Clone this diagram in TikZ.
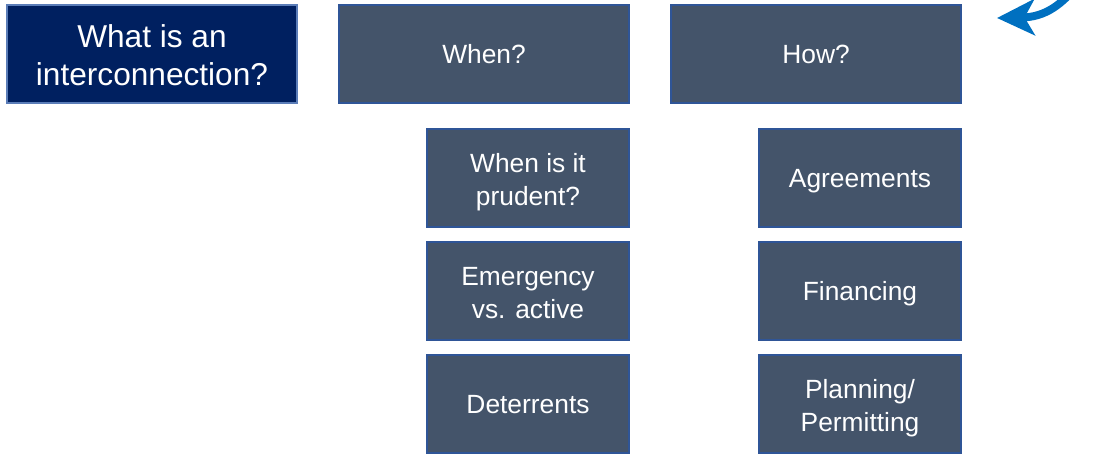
\documentclass[tikz,border=0pt]{standalone}
\usepackage{fontspec}
\setmainfont{Liberation Sans}
\usepackage{xcolor}
\usetikzlibrary{arrows.meta}
\definecolor{navyfill}{HTML}{002060}
\definecolor{navyedge}{HTML}{5B7DB8}
\definecolor{slatefill}{HTML}{44546A}
\definecolor{slateedge}{HTML}{2F5597}
\definecolor{arrowblue}{HTML}{0070C0}
\tikzset{
  topicbox/.style={draw=navyedge, fill=navyfill, line width=1.1pt, text=white,
    minimum width=5.8cm, minimum height=1.96cm, align=center,
    font=\fontsize{18}{21.5}\selectfont, text height=35.5pt, text depth=0pt},
  headbox/.style={draw=slateedge, fill=slatefill, line width=1pt, text=white,
    minimum width=5.8cm, minimum height=1.96cm, align=center,
    font=\fontsize{15}{19}\selectfont, text height=10.8pt, text depth=0pt},
  subbox/.style={headbox, minimum width=4.04cm},
  twoline/.style={text height=31.5pt, text depth=0pt}
}
\begin{document}
\begin{tikzpicture}[x=0.02cm,y=-0.02cm]
\useasboundingbox (0,0) rectangle (1099,455);
\clip (0,0) rectangle (1099,455);
% top row
\node[topicbox] (what) at (152,54) {What is an\\interconnection?};
\node[headbox] (when) at (484,54) {When?};
\node[headbox] (how) at (816,54) {How?};
% sub topics
\node[subbox, twoline] (prudent) at (528,178) {When is it\\prudent?};
\node[subbox, twoline] (emergency) at (528,291) {Emergency\\vs. active};
\node[subbox] (deterrents) at (528,404) {Deterrents};
\node[subbox] (agreements) at (860,178) {Agreements};
\node[subbox] (financing) at (860,291) {Financing};
\node[subbox, twoline] (planning) at (860,404) {Planning/\\Permitting};
% curved arrow, top right
\draw[arrowblue, line width=4.5pt, -{Stealth[length=0.75cm,width=0.72cm,inset=0.2cm]}]
  (1080,-18) .. controls (1062,5) and (1045,17) .. (997,18);
\end{tikzpicture}
\end{document}
